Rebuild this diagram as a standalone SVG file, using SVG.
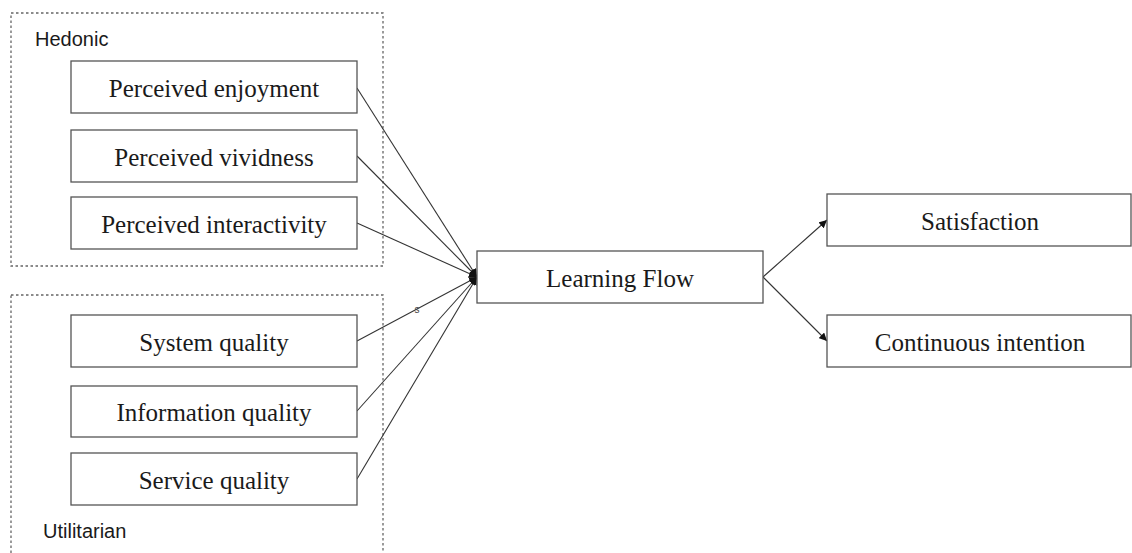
<svg xmlns="http://www.w3.org/2000/svg" width="1132" height="553" viewBox="0 0 1132 553">
<defs>
<style>
.grp{fill:none;stroke:#666;stroke-width:1.3;stroke-dasharray:2.5 2.5}
.box{fill:#fff;stroke:#555;stroke-width:1.3}
.t{font-family:"Liberation Serif","Times New Roman",serif;font-size:25px;fill:#1a1a1a;text-anchor:middle}
.g{font-family:"Liberation Sans",Arial,sans-serif;font-size:20px;fill:#1a1a1a}
.c{fill:none;stroke:#333;stroke-width:1.1}
</style>
<marker id="ah" viewBox="0 0 10 10" refX="10" refY="5" markerWidth="8" markerHeight="8" markerUnits="userSpaceOnUse" orient="auto">
<path d="M0,0 L10,5 L0,10 z" fill="#111"/>
</marker>
</defs>
<rect width="1132" height="553" fill="#fff"/>
<g id="hedonic">
<rect class="grp" x="11" y="13" width="372" height="253"/>
<text class="g" x="35" y="46">Hedonic</text>
</g>
<g id="utilitarian">
<rect class="grp" x="11" y="295" width="372" height="262"/>
<text class="g" x="43" y="538">Utilitarian</text>
</g>
<g id="connectors">
<path class="c" d="M357,88 L477,277" marker-end="url(#ah)"/>
<path class="c" d="M357,156 L477,277" marker-end="url(#ah)"/>
<path class="c" d="M357,223 L477,277" marker-end="url(#ah)"/>
<path class="c" d="M357,341 L477,277" marker-end="url(#ah)"/>
<path class="c" d="M357,411 L477,277" marker-end="url(#ah)"/>
<path class="c" d="M357,479 L477,277" marker-end="url(#ah)"/>
<path class="c" d="M763,277 L827,220" marker-end="url(#ah)"/>
<path class="c" d="M763,277 L827,341" marker-end="url(#ah)"/>
<text x="417" y="313" font-family="Liberation Sans,Arial,sans-serif" font-size="10" fill="#444" text-anchor="middle">s</text>
</g>
<g id="n-enjoyment"><rect class="box" x="71" y="61" width="286" height="52"/><text class="t" x="214" y="97">Perceived enjoyment</text></g>
<g id="n-vividness"><rect class="box" x="71" y="130" width="286" height="52"/><text class="t" x="214" y="166">Perceived vividness</text></g>
<g id="n-interactivity"><rect class="box" x="71" y="197" width="286" height="52"/><text class="t" x="214" y="233">Perceived interactivity</text></g>
<g id="n-system"><rect class="box" x="71" y="315" width="286" height="52"/><text class="t" x="214" y="351">System quality</text></g>
<g id="n-information"><rect class="box" x="71" y="386" width="286" height="51"/><text class="t" x="214" y="421">Information quality</text></g>
<g id="n-service"><rect class="box" x="71" y="453" width="286" height="52"/><text class="t" x="214" y="489">Service quality</text></g>
<g id="n-flow"><rect class="box" x="477" y="251" width="286" height="52"/><text class="t" x="620" y="287">Learning Flow</text></g>
<g id="n-satisfaction"><rect class="box" x="827" y="194" width="304" height="52"/><text class="t" x="980" y="230">Satisfaction</text></g>
<g id="n-continuous"><rect class="box" x="827" y="315" width="304" height="52"/><text class="t" x="980" y="351">Continuous intention</text></g>
</svg>
